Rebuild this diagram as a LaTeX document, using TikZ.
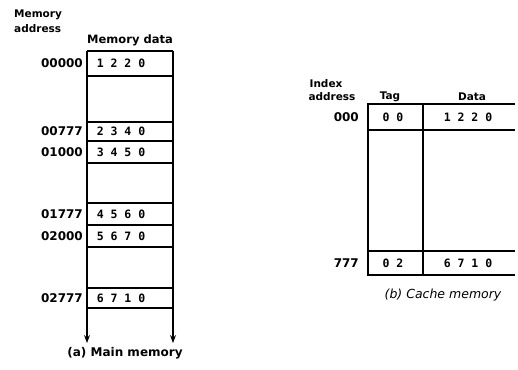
\documentclass[tikz,border=0pt]{standalone}
\usepackage{fontspec}
\setmainfont{DejaVu Sans}
\newfontfamily\datafont{DejaVu Sans Mono}[LetterSpace=60]
\usetikzlibrary{arrows.meta,positioning}

\begin{document}
\begin{tikzpicture}[x=1pt, y=-1pt, >=Stealth,
    lbl/.style={font=\bfseries\fontsize{10.5}{11}\selectfont, inner sep=0pt},
    addr/.style={font=\bfseries\fontsize{12}{13}\selectfont, inner sep=0pt, anchor=east},
    dat/.style={font=\datafont\bfseries\fontsize{11.5}{12}\selectfont, inner sep=0pt},
    box/.style={line width=1.1pt}]
    \useasboundingbox (0,0) rectangle (518,369);

    % Main memory
    \coordinate (mtl) at (87,51);
    \coordinate (mtr) at (173,51);
    \coordinate (mbl) at (87,343);
    \coordinate (mbr) at (173,343);
    \draw[box,->] (mtl) -- (mbl);
    \draw[box,->] (mtr) -- (mbr);
    \foreach \y in {51,76,122,141,163,203,225,247,288,308}
        \draw[box] (87,\y) -- (173,\y);

    \node[lbl, anchor=west] (memlbl) at (14,15) {Memory};
    \node[lbl, anchor=west] (addrlbl) at (14,29) {address};
    \node[lbl, font=\bfseries\fontsize{11.5}{12}\selectfont] (datalbl) at (130,40) {Memory data};

    \node[dat] (m1) at (121,63.5) {1220};
    \node[dat] (m2) at (121,131.5) {2340};
    \node[dat] (m3) at (121,152) {3450};
    \node[dat] (m4) at (121,214) {4560};
    \node[dat] (m5) at (121,236) {5670};
    \node[dat] (m6) at (121,298) {6710};

    \node[addr] (a1) at (83,63.5) {00000};
    \node[addr] (a2) at (83,131.5) {00777};
    \node[addr] (a3) at (83,152) {01000};
    \node[addr] (a4) at (83,214) {01777};
    \node[addr] (a5) at (83,236) {02000};
    \node[addr] (a6) at (83,298) {02777};

    \node[lbl, font=\bfseries\fontsize{12}{13}\selectfont] (capa) at (125,353) {(a) Main memory};

    % Cache memory
    \draw[box] (515,104) -- (368,104) -- (368,275) -- (515,275);
    \draw[box] (423,104) -- (423,275);
    \draw[box] (368,130) -- (515,130);
    \draw[box] (368,251) -- (515,251);

    \node[lbl] (idxlbl) at (326,84) {Index};
    \node[lbl] (idxaddr) at (332,97) {address};
    \node[lbl] (taglbl) at (390,97) {Tag};
    \node[lbl] (dlbl) at (472,97) {Data};

    \node[dat] (t1) at (393,117) {00};
    \node[dat] (d1) at (468,117) {1220};
    \node[dat] (t2) at (393,263) {02};
    \node[dat] (d2) at (468,263) {6710};

    \node[addr] (i1) at (359,117) {000};
    \node[addr] (i2) at (359,263) {777};

    \node[font=\itshape\fontsize{12.5}{13}\selectfont, inner sep=0pt] (capb) at (443,295) {(b) Cache memory};
\end{tikzpicture}
\end{document}
